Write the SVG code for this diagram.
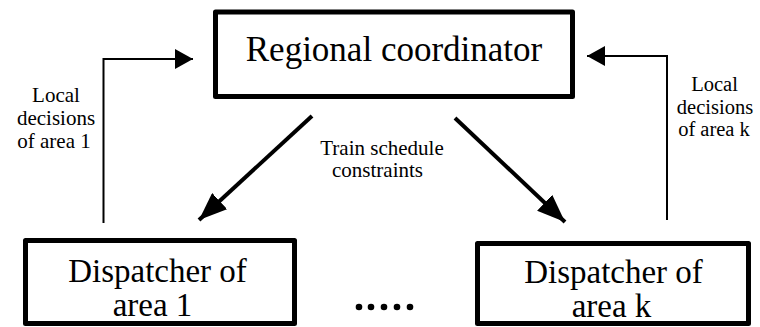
<svg xmlns="http://www.w3.org/2000/svg" width="760" height="327" viewBox="0 0 760 327">
<style>
.box{fill:#fff;stroke:#000;stroke-width:5;stroke-linejoin:round}
text{font-family:'Liberation Serif','Times New Roman',serif;fill:#000;text-anchor:middle}
.big{font-size:35px}
.mid{font-size:33px}
.sm{font-size:21px}
.sr{font-size:20.5px}
.thin{fill:none;stroke:#000;stroke-width:2}
.thick{fill:none;stroke:#000;stroke-width:4}
</style>
<defs>
<marker id="ah" markerUnits="userSpaceOnUse" markerWidth="18" markerHeight="20" refX="18" refY="10" orient="auto"><path d="M0,0 L18,10 L0,20 z" fill="#000"/></marker>
<marker id="ahb" markerUnits="userSpaceOnUse" markerWidth="28" markerHeight="22" refX="28" refY="11" orient="auto"><path d="M0,0 L28,11 L0,22 z" fill="#000"/></marker>
</defs>
<rect width="760" height="327" fill="#fff"/>
<g id="regional">
<rect class="box" x="215.5" y="12" width="357" height="84.5"/>
<text class="big" x="394" y="61">Regional coordinator</text>
</g>
<g id="dispatcher1">
<rect class="box" x="25.5" y="240.5" width="269" height="83"/>
<text class="mid" x="157.5" y="282">Dispatcher of</text>
<text class="mid" x="152.5" y="315.5">area 1</text>
</g>
<g id="dispatcherk">
<rect class="box" x="477.5" y="243.5" width="271" height="80"/>
<text class="mid" x="613.5" y="283">Dispatcher of</text>
<text class="mid" x="611.5" y="317">area k</text>
</g>
<g id="dots" fill="#000">
<circle cx="359" cy="307" r="3.3"/>
<circle cx="371" cy="307" r="3.3"/>
<circle cx="384" cy="307" r="3.3"/>
<circle cx="397" cy="307" r="3.3"/>
<circle cx="410" cy="307" r="3.3"/>
</g>
<g id="connectors">
<polyline class="thin" points="103.5,223 103.5,59 193,59" marker-end="url(#ah)"/>
<polyline class="thin" points="667,220 667,56 587,56" marker-end="url(#ah)"/>
<line class="thick" x1="312" y1="116" x2="199" y2="220" marker-end="url(#ahb)"/>
<line class="thick" x1="455" y1="118" x2="565" y2="222" marker-end="url(#ahb)"/>
</g>
<g id="labels">
<text class="sm" x="56" y="102">Local</text>
<text class="sm" x="56" y="125">decisions</text>
<text class="sm" x="54" y="148">of area 1</text>
<text class="sr" x="714.5" y="91">Local</text>
<text class="sr" x="715" y="113.5">decisions</text>
<text class="sr" x="714" y="136">of area k</text>
<text class="sm" x="382" y="155">Train schedule</text>
<text class="sm" x="377.5" y="177">constraints</text>
</g>
</svg>
